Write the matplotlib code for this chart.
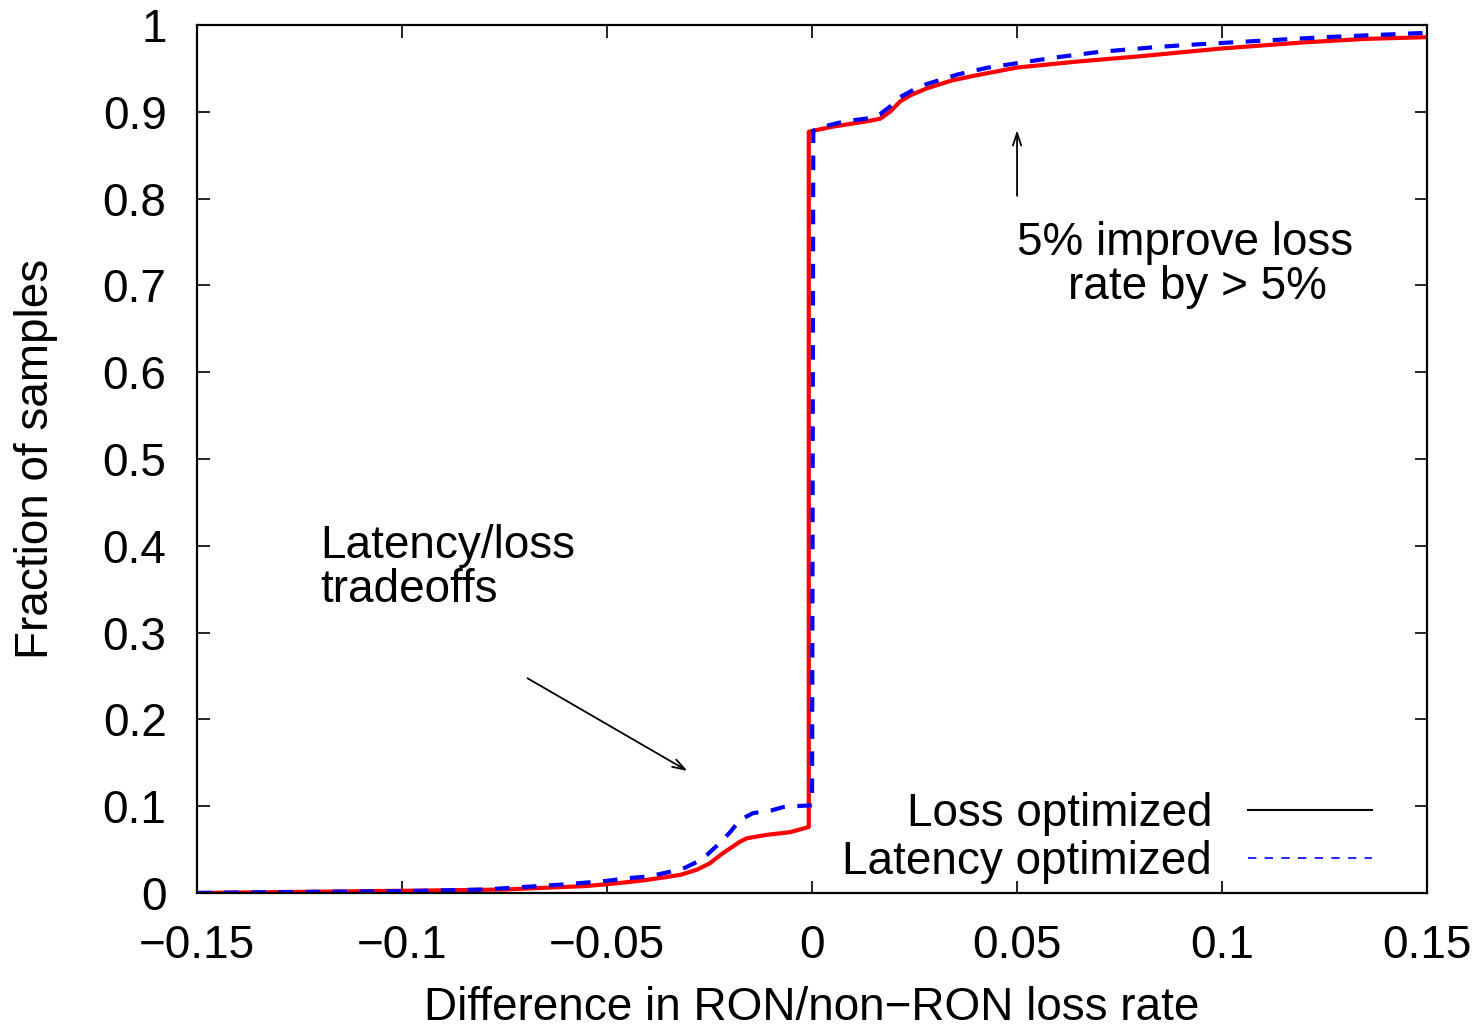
import matplotlib
matplotlib.use("Agg")
import matplotlib.pyplot as plt
from matplotlib.lines import Line2D

# data (CDF of loss rate difference)
loss_x = [-0.15, -0.13, -0.11, -0.09, -0.075, -0.065, -0.055, -0.048, -0.042, -0.036,
          -0.032, -0.028, -0.025, -0.0217, -0.0176, -0.0159, -0.011, -0.0054, -0.0008,
          -0.0008, 0.0011, 0.0052, 0.0133, 0.0166, 0.019, 0.0215, 0.024, 0.028, 0.034,
          0.04, 0.05, 0.065, 0.08, 0.1, 0.12, 0.135, 0.15]
loss_y = [0.0, 0.001, 0.002, 0.003, 0.004, 0.006, 0.008, 0.011, 0.014, 0.018,
          0.021, 0.027, 0.034, 0.046, 0.059, 0.063, 0.067, 0.070, 0.076,
          0.877, 0.879, 0.883, 0.889, 0.892, 0.900, 0.912, 0.919, 0.927, 0.936,
          0.942, 0.951, 0.958, 0.964, 0.973, 0.980, 0.984, 0.986]

lat_x = [-0.15, -0.13, -0.1, -0.08, -0.07, -0.06, -0.05, -0.045, -0.04, -0.035,
         -0.031, -0.028, -0.0256, -0.0224, -0.02, -0.0176, -0.0144, -0.01, -0.007,
         -0.004, 0.0, 0.0003, 0.001, 0.008, 0.0145, 0.0165, 0.019, 0.0215, 0.025,
         0.028, 0.0355, 0.043, 0.05, 0.06, 0.07, 0.085, 0.095, 0.11, 0.125, 0.145, 0.15]
lat_y = [0.0, 0.001, 0.002, 0.004, 0.007, 0.010, 0.014, 0.017, 0.019, 0.024,
         0.029, 0.036, 0.044, 0.058, 0.070, 0.084, 0.092, 0.095, 0.099,
         0.100, 0.101, 0.878, 0.881, 0.889, 0.893, 0.897, 0.906, 0.917, 0.926,
         0.932, 0.943, 0.951, 0.956, 0.963, 0.969, 0.975, 0.978, 0.982, 0.986, 0.990, 0.991]

xticks = [-0.15, -0.1, -0.05, 0, 0.05, 0.1, 0.15]
xtick_labels = ["\u22120.15", "\u22120.1", "\u22120.05", "0", "0.05", "0.1", "0.15"]
yticks = [0, 0.1, 0.2, 0.3, 0.4, 0.5, 0.6, 0.7, 0.8, 0.9, 1]
ytick_labels = ["0", "0.1", "0.2", "0.3", "0.4", "0.5", "0.6", "0.7", "0.8", "0.9", "1"]

plt.rcParams["font.family"] = ["Liberation Sans", "DejaVu Sans"]
fs = 33

fig = plt.figure(figsize=(14.75, 10.29), dpi=100)
ax = fig.add_axes([0.1336, 0.1322, 0.8339, 0.8435])

ax.plot(loss_x, loss_y, color="red", lw=3, solid_joinstyle="round")
ax.plot(lat_x, lat_y, color="blue", lw=3, dashes=(3.5, 3))

ax.set_xlim(-0.15, 0.15)
ax.set_ylim(0, 1)
ax.set_xticks(xticks)
ax.set_xticklabels(xtick_labels)
ax.set_yticks(yticks)
ax.set_yticklabels(ytick_labels)
ax.tick_params(direction="in", length=9, width=1.2, top=True, right=True,
               labelsize=fs, pad=22)
for s in ax.spines.values():
    s.set_linewidth(1.6)

ax.set_xlabel("Difference in RON/non\u2212RON loss rate", fontsize=fs, labelpad=13)
ax.set_ylabel("Fraction of samples", fontsize=fs, labelpad=32)

# annotations
ax.annotate("", xy=(-0.0298, 0.139), xytext=(-0.07, 0.249),
            arrowprops=dict(arrowstyle="->,head_length=0.9,head_width=0.3", color="black", lw=1.3))
ax.text(-0.12, 0.374, "Latency/loss\ntradeoffs", fontsize=fs, ha="left", va="center",
        linespacing=1.0)
ax.annotate("", xy=(0.05, 0.882), xytext=(0.05, 0.80),
            arrowprops=dict(arrowstyle="->,head_length=0.9,head_width=0.3", color="black", lw=1.3))
ax.text(0.05, 0.749, "5% improve loss", fontsize=fs, ha="left", va="center")
ax.text(0.0624, 0.698, "rate by > 5%", fontsize=fs, ha="left", va="center")

# legend in gnuplot style (text first, thin samples)
handles = [Line2D([], [], color="black", lw=1.5),
           Line2D([], [], color="blue", lw=1.2, dashes=(5, 5))]
ax.legend(handles, ["Loss optimized", "Latency optimized"], loc="lower right",
          bbox_to_anchor=(0.955, 0.010), borderaxespad=0.0, borderpad=0.0,
          frameon=False, markerfirst=False, fontsize=fs, handlelength=2.7,
          handletextpad=0.78, labelspacing=0.1)

fig.savefig("out.png", dpi=100)
